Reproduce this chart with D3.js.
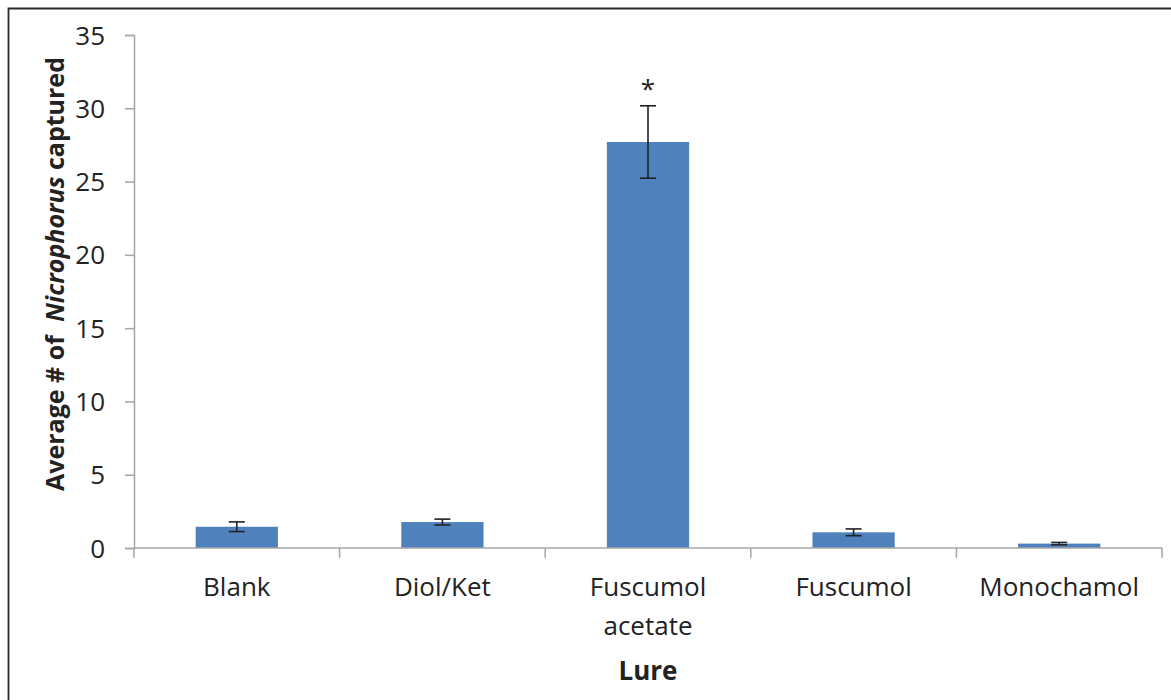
<!DOCTYPE html>
<html>
<head>
<meta charset="utf-8">
<script src="https://cdn.jsdelivr.net/npm/d3@7"></script>
<style>
  body { margin: 0; background: #fff; }
  text { font-family: "Open Sans", "Noto Sans", sans-serif; fill: #222; }
</style>
</head>
<body>
<svg id="chart" width="1171" height="700"></svg>
<script>
// lure categories, mean catch and standard error
const lures = ["Blank", "Diol/Ket", "Fuscumol acetate", "Fuscumol", "Monochamol"];
const lureLines = [["Blank"], ["Diol/Ket"], ["Fuscumol", "acetate"], ["Fuscumol"], ["Monochamol"]];
const means = [1.45, 1.77, 27.7, 1.07, 0.3];
const errors = [0.33, 0.2, 2.47, 0.23, 0.08];
const marks = ["", "", "*", "", ""];
const yTicks = [0, 5, 10, 15, 20, 25, 30, 35];

const svg = d3.select("#chart");
const margin = { left: 134, right: 9, top: 35, bottom: 152 };
const width = 1171, height = 700;

// outer frame (only top and left edges show in the picture)
svg.append("path")
  .attr("d", "M8.5,700 V8.5 H1171")
  .attr("fill", "none")
  .attr("stroke", "#2a2a2a")
  .attr("stroke-width", 1.8);

const x = d3.scaleBand()
  .domain(lures)
  .range([margin.left, width - margin.right])
  .paddingInner(0.6)
  .paddingOuter(0.3);

const y = d3.scaleLinear()
  .domain([0, 35])
  .range([height - margin.bottom, margin.top]);

const axisColor = "#a6a6a6";

// y axis
const yAxis = svg.append("g")
  .attr("transform", `translate(${margin.left},0)`)
  .call(d3.axisLeft(y).tickValues(yTicks).tickSize(9).tickPadding(20));
yAxis.select(".domain").attr("stroke", axisColor).attr("stroke-width", 1.5);
yAxis.selectAll(".tick line").attr("stroke", axisColor).attr("stroke-width", 1.5);
yAxis.selectAll(".tick text")
  .style("font-size", "26px")
  .style("fill", "#222")
  .attr("dy", "0.35em");

// bars
svg.append("g")
  .selectAll("rect")
  .data(means)
  .join("rect")
  .attr("x", (d, i) => x(lures[i]))
  .attr("y", d => y(d))
  .attr("width", x.bandwidth())
  .attr("height", d => y(0) - y(d))
  .attr("fill", "#4f81bd");

// x axis line and category separators
const xLeft = margin.left, xRight = width - margin.right;
svg.append("line")
  .attr("x1", xLeft).attr("x2", xRight)
  .attr("y1", y(0)).attr("y2", y(0))
  .attr("stroke", axisColor).attr("stroke-width", 1.5);
svg.append("g")
  .selectAll("line")
  .data(d3.range(lures.length + 1))
  .join("line")
  .attr("x1", i => xLeft + i * (xRight - xLeft) / lures.length)
  .attr("x2", i => xLeft + i * (xRight - xLeft) / lures.length)
  .attr("y1", y(0)).attr("y2", y(0) + 10)
  .attr("stroke", axisColor).attr("stroke-width", 1.5);

// error bars
const cap = 8;
const eb = svg.append("g").attr("stroke", "#222").attr("stroke-width", 1.6);
means.forEach((m, i) => {
  const cx = x(lures[i]) + x.bandwidth() / 2;
  const lo = y(m - errors[i]), hi = y(m + errors[i]);
  eb.append("line").attr("x1", cx).attr("x2", cx).attr("y1", lo).attr("y2", hi);
  eb.append("line").attr("x1", cx - cap).attr("x2", cx + cap).attr("y1", lo).attr("y2", lo);
  eb.append("line").attr("x1", cx - cap).attr("x2", cx + cap).attr("y1", hi).attr("y2", hi);
});

// significance marks
svg.append("g")
  .selectAll("text")
  .data(marks)
  .join("text")
  .attr("x", (d, i) => x(lures[i]) + x.bandwidth() / 2)
  .attr("y", (d, i) => y(means[i] + errors[i]) - 8)
  .attr("text-anchor", "middle")
  .style("font-size", "26px")
  .text(d => d);

// category labels
const labels = svg.append("g");
lureLines.forEach((lines, i) => {
  const t = labels.append("text")
    .attr("x", x(lures[i]) + x.bandwidth() / 2)
    .attr("y", 596)
    .attr("text-anchor", "middle")
    .style("font-size", "26px");
  lines.forEach((ln, j) => {
    t.append("tspan")
      .attr("x", x(lures[i]) + x.bandwidth() / 2)
      .attr("dy", j === 0 ? 0 : 39)
      .text(ln);
  });
});

// axis titles
svg.append("text")
  .attr("x", (xLeft + xRight) / 2)
  .attr("y", 680)
  .attr("text-anchor", "middle")
  .style("font-size", "26px")
  .style("font-weight", "bold")
  .text("Lure");

const yTitle = svg.append("text")
  .attr("transform", `translate(64,${274}) rotate(-90)`)
  .attr("text-anchor", "middle")
  .style("font-size", "25px")
  .style("font-weight", "bold")
  .style("white-space", "pre");
yTitle.append("tspan").text("Average # of  ");
yTitle.append("tspan").style("font-style", "italic").text("Nicrophorus");
yTitle.append("tspan").text(" captured");
</script>
</body>
</html>
